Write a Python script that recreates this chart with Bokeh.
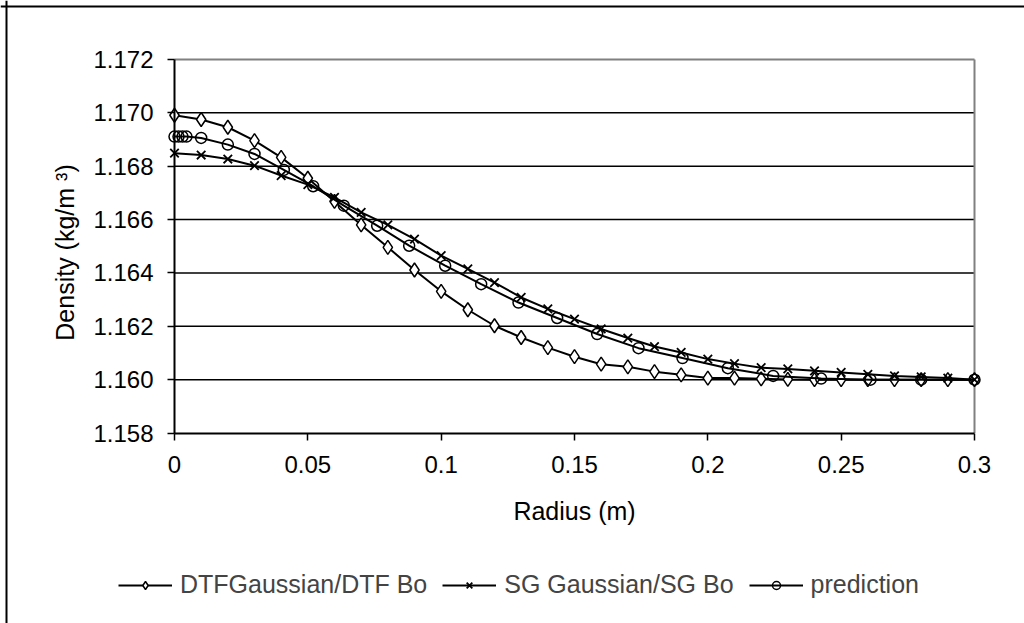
import math
from bokeh.plotting import figure
from bokeh.models import (FixedTicker, Legend, LegendItem, Range1d, Label, Span)
from bokeh.embed import file_html
from bokeh.resources import INLINE

# ---- data ----
r_dtf = [0.00, 0.01, 0.02, 0.03, 0.04, 0.05, 0.06, 0.07, 0.08, 0.09,
         0.10, 0.11, 0.12, 0.13, 0.14, 0.15, 0.16, 0.17, 0.18, 0.19,
         0.20, 0.21, 0.22, 0.23, 0.24, 0.25, 0.26, 0.27, 0.28, 0.29, 0.30]
dtf = [1.16991, 1.16975, 1.16946, 1.16896, 1.16833, 1.16755, 1.16668, 1.16580, 1.16496, 1.16411,
       1.16331, 1.16262, 1.16202, 1.16158, 1.16120, 1.16086, 1.16058, 1.16048, 1.16030, 1.16018,
       1.16006, 1.16006, 1.16003, 1.16001, 1.16000, 1.16000, 1.16000, 1.16000, 1.16000, 1.16000, 1.16000]

r_sg = r_dtf
sg = [1.16849, 1.16842, 1.16827, 1.16802, 1.16765, 1.16731, 1.16683, 1.16627, 1.16580, 1.16527,
      1.16465, 1.16415, 1.16364, 1.16308, 1.16265, 1.16227, 1.16190, 1.16156, 1.16124, 1.16102,
      1.16077, 1.16060, 1.16045, 1.16040, 1.16033, 1.16027, 1.16020, 1.16014, 1.16010, 1.16006, 1.16000]

r_pred = [0.0, 0.0015, 0.003, 0.0045, 0.01, 0.02, 0.03, 0.041, 0.052, 0.0635, 0.076, 0.088,
          0.1015, 0.115, 0.129, 0.1435, 0.1585, 0.174, 0.1905, 0.2075, 0.2245, 0.2425,
          0.261, 0.28, 0.30]
pred = [1.16911, 1.16911, 1.16911, 1.16911, 1.16906, 1.16881, 1.16846, 1.16786, 1.16725, 1.16652,
        1.16577, 1.16502, 1.16427, 1.16358, 1.16289, 1.16231, 1.16171, 1.16118, 1.16081, 1.16043,
        1.16014, 1.16004, 1.16000, 1.16000, 1.16000]

x_ticks = [0, 0.05, 0.1, 0.15, 0.2, 0.25, 0.3]
x_tick_labels = ["0", "0.05", "0.1", "0.15", "0.2", "0.25", "0.3"]
y_ticks = [1.158, 1.160, 1.162, 1.164, 1.166, 1.168, 1.170, 1.172]
y_tick_labels = ["1.158", "1.160", "1.162", "1.164", "1.166", "1.168", "1.170", "1.172"]
series_names = ["DTFGaussian/DTF Bo", "SG Gaussian/SG Bo", "prediction"]
x_title = "Radius (m)"
y_title = "Density (kg/m \u00b3)"

FONT = "Liberation Sans"

# ---- layout (pixels): the frame covers the whole chart area, the plot area sits inside ----
W, H = 1024, 623
PA_LEFT, PA_RIGHT, PA_TOP, PA_BOTTOM = 174, 974, 59, 432.5
x0, x1 = x_ticks[0], x_ticks[-1]
y0, y1 = y_ticks[0], y_ticks[-1]
kx = (PA_RIGHT - PA_LEFT) / (x1 - x0)
ky = (PA_BOTTOM - PA_TOP) / (y1 - y0)
xr = Range1d(x0 - PA_LEFT / kx, x1 + (W - PA_RIGHT) / kx)
yr = Range1d(y0 - (H - PA_BOTTOM) / ky, y1 + PA_TOP / ky)

p = figure(width=W, height=H, output_backend="svg", toolbar_location=None,
           x_range=xr, y_range=yr,
           min_border_left=0, min_border_right=0, min_border_top=0, min_border_bottom=0)
p.outline_line_color = None
p.background_fill_color = "white"
p.border_fill_color = "white"
p.xgrid.visible = False
p.ygrid.visible = False

# horizontal gridlines inside the plot area only
grid_vals = y_ticks[1:-1]
p.multi_line(xs=[[x0, x1] for _ in grid_vals], ys=[[v, v] for v in grid_vals],
             line_color="black", line_width=1.5)

# plot-area top/right border (grey)
p.multi_line(xs=[[x0, x1], [x1, x1]], ys=[[y1, y1], [y1, y0]], line_color="#808080", line_width=2)

# axes pinned to the plot-area edges
p.xaxis.fixed_location = y0
p.yaxis.fixed_location = x0
p.xaxis.bounds = (x0, x1)
p.yaxis.bounds = (y0, y1)
p.xaxis.ticker = FixedTicker(ticks=x_ticks)
p.xaxis.major_label_overrides = {t: l for t, l in zip(x_ticks, x_tick_labels)}
p.yaxis.ticker = FixedTicker(ticks=y_ticks)
p.yaxis.major_label_overrides = {t: l for t, l in zip(y_ticks, y_tick_labels)}
for ax in (p.xaxis[0], p.yaxis[0]):
    ax.axis_line_color = "black"
    ax.axis_line_width = 2
    ax.major_tick_line_color = "black"
    ax.major_tick_line_width = 1.5
    ax.major_tick_out = 7
    ax.major_tick_in = 0
    ax.minor_tick_line_color = None
    ax.major_label_text_font = FONT
    ax.major_label_text_font_size = "24px"
    ax.major_label_text_color = "black"
p.xaxis.major_label_standoff = 16
p.yaxis.major_label_standoff = 14

# series
l1 = p.line(r_dtf, dtf, line_color="black", line_width=2)
m1 = p.scatter(r_dtf, dtf, marker="diamond", size=14, fill_color="white", line_color="black", line_width=1.5)
l2 = p.line(r_sg, sg, line_color="black", line_width=2)
m2 = p.scatter(r_sg, sg, marker="x", size=12, line_color="black", line_width=1.8)
l3 = p.line(r_pred, pred, line_color="black", line_width=2)
m3 = p.scatter(r_pred, pred, marker="circle", size=11, fill_color=None, line_color="black", line_width=1.5)

# axis titles
p.add_layout(Label(x=(PA_LEFT + PA_RIGHT) / 2, y=H - 510, x_units="screen", y_units="screen", text=x_title,
                   text_align="center", text_baseline="middle",
                   text_font=FONT, text_font_size="25px", text_color="black"))
p.add_layout(Label(x=64, y=H - 252, x_units="screen", y_units="screen", text=y_title,
                   angle=math.pi / 2, text_align="center", text_baseline="middle",
                   text_font=FONT, text_font_size="25px", text_color="black"))

legend = Legend(items=[LegendItem(label=series_names[0], renderers=[l1, m1]),
                       LegendItem(label=series_names[1], renderers=[l2, m2]),
                       LegendItem(label=series_names[2], renderers=[l3, m3])],
                location=(118, 24), orientation="horizontal",
                border_line_color=None, background_fill_alpha=0,
                label_text_font=FONT, label_text_font_size="25px",
                glyph_width=54, glyph_height=20, label_standoff=8, spacing=15,
                padding=0, margin=0)
p.add_layout(legend, "center")

# outer chart border (only its top and left sides fall inside the picture)
p.add_layout(Span(location=xr.start + 6 / kx, dimension="height", line_color="black", line_width=2))
p.add_layout(Span(location=yr.end - 6 / ky, dimension="width", line_color="black", line_width=2))

open("out.html", "w").write(file_html(p, INLINE))
